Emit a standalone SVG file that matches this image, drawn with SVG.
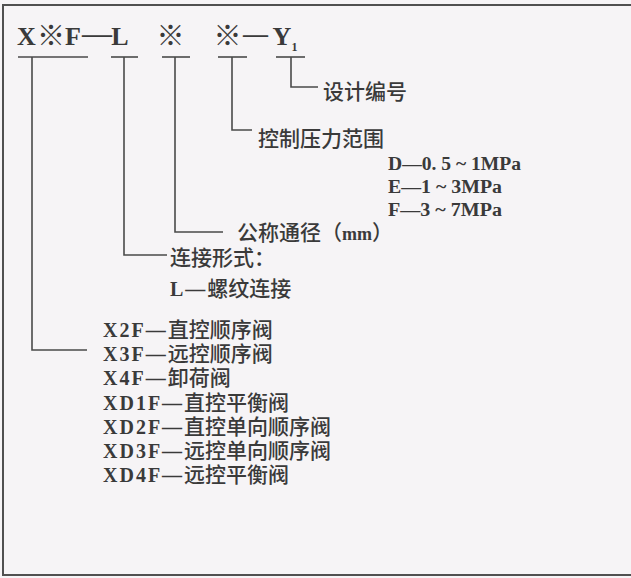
<svg xmlns="http://www.w3.org/2000/svg" width="631" height="578" viewBox="0 0 631 578">
<style>
.bg{fill:#f6f4f6}
.frame{fill:none;stroke:#505050;stroke-width:2}
.ln{fill:none;stroke:#4a4a4a;stroke-width:1.6}
.hd{font-family:"Liberation Serif",serif;font-weight:bold;font-size:26px;fill:#3a3a3a}
.mk{font-family:"Noto Sans CJK SC",sans-serif;font-size:28px;fill:#3a3a3a}
.sub{font-family:"Liberation Serif",serif;font-weight:bold;font-size:12px;fill:#3a3a3a}
.lt{font-family:"Liberation Serif",serif;font-weight:bold;font-size:20px;fill:#3a3a3a;letter-spacing:2px}
.cj{font-family:"Noto Sans CJK SC","Noto Sans",sans-serif;font-weight:500;font-size:21px;fill:#3a3a3a}
.pr{font-family:"Liberation Serif",serif;font-weight:bold;font-size:18px;fill:#3a3a3a}
</style>
<rect class="bg" x="0" y="0" width="631" height="578"/>
<rect class="frame" x="3" y="5" width="640" height="570"/>

<g id="header">
<text class="hd" x="26.5" y="45" text-anchor="middle">X</text>
<text class="mk" x="51" y="46" text-anchor="middle">※</text>
<text class="hd" x="73" y="45" text-anchor="middle">F</text>
<text class="hd" x="82" y="42" textLength="30" lengthAdjust="spacingAndGlyphs">—</text>
<text class="hd" x="120" y="45" text-anchor="middle">L</text>
<text class="mk" x="170.5" y="46" text-anchor="middle">※</text>
<text class="mk" x="227.5" y="46" text-anchor="middle">※</text>
<text class="hd" x="243" y="42" textLength="25" lengthAdjust="spacingAndGlyphs">—</text>
<text class="hd" x="282" y="45" text-anchor="middle">Y</text>
<text class="sub" x="294.5" y="51" text-anchor="middle">1</text>
</g>

<g id="connectors">
<line class="ln" x1="18" y1="57" x2="88" y2="57"/>
<line class="ln" x1="111" y1="57" x2="138" y2="57"/>
<line class="ln" x1="162" y1="57" x2="190" y2="57"/>
<line class="ln" x1="218" y1="57" x2="247" y2="57"/>
<line class="ln" x1="276" y1="57" x2="305" y2="57"/>
<polyline class="ln" points="291,57 291,87 318,87"/>
<polyline class="ln" points="232,57 232,130 252,130"/>
<polyline class="ln" points="175,57 175,232 223,232"/>
<polyline class="ln" points="124,57 124,255 167,255"/>
<polyline class="ln" points="32,57 32,350 87,350"/>
</g>

<g id="design-no">
<text class="cj" x="323" y="99">设计编号</text>
</g>

<g id="pressure">
<text class="cj" x="258" y="146">控制压力范围</text>
<text class="pr" x="388" y="170" textLength="133" lengthAdjust="spacingAndGlyphs">D—0. 5 ~ 1MPa</text>
<text class="pr" x="388" y="193" textLength="114" lengthAdjust="spacingAndGlyphs">E—1 ~ 3MPa</text>
<text class="pr" x="388" y="216" textLength="114" lengthAdjust="spacingAndGlyphs">F—3 ~ 7MPa</text>
</g>

<g id="diameter">
<text class="cj" x="237" y="240">公称通径（<tspan class="pr">mm</tspan>）</text>
</g>

<g id="connection">
<text class="cj" x="170" y="265">连接形式：</text>
<text x="170" y="296"><tspan class="lt">L—</tspan><tspan class="cj">螺纹连接</tspan></text>
</g>

<g id="types">
<text x="103" y="337"><tspan class="lt">X2F—</tspan><tspan class="cj">直控顺序阀</tspan></text>
<text x="103" y="361"><tspan class="lt">X3F—</tspan><tspan class="cj">远控顺序阀</tspan></text>
<text x="103" y="385"><tspan class="lt">X4F—</tspan><tspan class="cj">卸荷阀</tspan></text>
<text x="103" y="409.5"><tspan class="lt">XD1F—</tspan><tspan class="cj">直控平衡阀</tspan></text>
<text x="103" y="434"><tspan class="lt">XD2F—</tspan><tspan class="cj">直控单向顺序阀</tspan></text>
<text x="103" y="458"><tspan class="lt">XD3F—</tspan><tspan class="cj">远控单向顺序阀</tspan></text>
<text x="103" y="482"><tspan class="lt">XD4F—</tspan><tspan class="cj">远控平衡阀</tspan></text>
</g>
</svg>
